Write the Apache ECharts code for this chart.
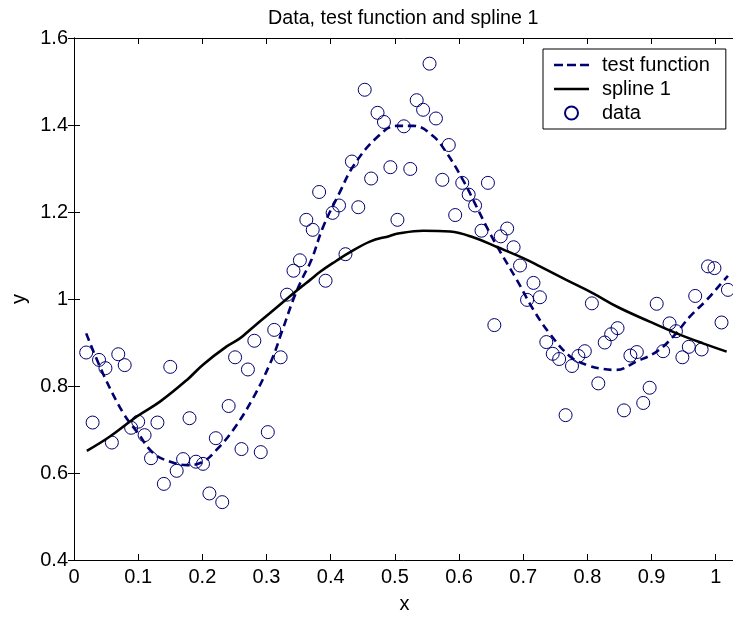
<!DOCTYPE html>
<html>
<head>
<meta charset="utf-8">
<script src="https://cdn.jsdelivr.net/npm/echarts@6/dist/echarts.min.js"></script>
<style>
html,body{margin:0;padding:0;background:#fff;}
#chart{width:733px;height:617px;}
</style>
</head>
<body>
<div id="chart"></div>
<script>
// ---- data ----
var dataX = [0.019,0.029,0.039,0.049,0.059,0.069,0.079,0.089,0.100,0.110,
  0.120,0.130,0.140,0.150,0.160,0.170,0.180,0.190,0.201,0.211,
  0.221,0.231,0.241,0.251,0.261,0.271,0.281,0.291,0.302,0.312,
  0.322,0.332,0.342,0.352,0.362,0.372,0.382,0.392,0.403,0.413,
  0.423,0.433,0.443,0.453,0.463,0.473,0.483,0.493,0.504,0.514,
  0.524,0.534,0.544,0.554,0.564,0.574,0.584,0.594,0.605,0.615,
  0.625,0.635,0.645,0.655,0.665,0.675,0.685,0.695,0.706,0.716,
  0.726,0.736,0.746,0.756,0.766,0.776,0.786,0.796,0.807,0.817,
  0.827,0.837,0.847,0.857,0.867,0.877,0.887,0.897,0.908,0.918,
  0.928,0.938,0.948,0.958,0.968,0.978,0.988,0.998,1.009,1.019];
var dataY = [0.877,0.716,0.860,0.841,0.670,0.873,0.848,0.704,0.718,0.687,
  0.634,0.716,0.575,0.844,0.605,0.632,0.726,0.626,0.621,0.553,
  0.680,0.533,0.754,0.866,0.655,0.838,0.904,0.648,0.694,0.929,
  0.866,1.010,1.065,1.089,1.182,1.159,1.246,1.042,1.198,1.215,
  1.103,1.316,1.211,1.481,1.277,1.428,1.407,1.303,1.182,1.397,
  1.299,1.457,1.435,1.541,1.415,1.274,1.354,1.193,1.267,1.240,
  1.215,1.157,1.267,0.940,1.144,1.162,1.119,1.077,0.998,1.037,
  1.004,0.901,0.874,0.862,0.733,0.846,0.869,0.880,0.990,0.806,
  0.900,0.919,0.933,0.744,0.870,0.878,0.761,0.796,0.989,0.880,
  0.944,0.926,0.866,0.890,1.007,0.884,1.075,1.071,0.946,1.021];

var testX = [0.019,0.046,0.077,0.098,0.124,0.150,0.176,0.201,0.222,0.248,
  0.279,0.308,0.324,0.342,0.355,0.370,0.388,0.414,0.435,0.471,
  0.503,0.529,0.560,0.581,0.606,0.627,0.645,0.664,0.690,0.716,
  0.741,0.773,0.800,0.825,0.845,0.876,0.908,0.934,0.960,0.986,1.011,1.019];
var testY = [0.921,0.826,0.737,0.695,0.645,0.626,0.618,0.626,0.653,0.699,
  0.772,0.860,0.925,1.000,1.045,1.090,1.165,1.245,1.305,1.370,
  1.398,1.398,1.374,1.335,1.274,1.213,1.160,1.109,1.044,0.975,
  0.921,0.868,0.848,0.839,0.837,0.856,0.879,0.914,0.960,0.998,1.040,1.053];

var splineX = [0.020,0.056,0.098,0.134,0.176,0.201,0.238,0.259,0.274,0.305,
  0.342,0.355,0.368,0.383,0.409,0.425,0.461,0.492,0.503,0.544,
  0.586,0.622,0.660,0.700,0.726,0.767,0.809,0.848,0.897,0.939,0.980,1.017];
var splineY = [0.651,0.684,0.730,0.764,0.814,0.849,0.891,0.910,0.929,0.967,
  1.013,1.029,1.044,1.062,1.088,1.103,1.132,1.145,1.150,1.157,
  1.155,1.142,1.119,1.094,1.075,1.044,1.013,0.981,0.948,0.921,0.898,0.879];

var xTicks = {min: 0, max: 1.03, interval: 0.1};
var yTicks = {min: 0.4, max: 1.6, interval: 0.2};
var titleText = 'Data, test function and spline 1';
var seriesNames = ['test function', 'spline 1', 'data'];

function pairs(xs, ys) { return xs.map(function (x, i) { return [x, ys[i]]; }); }

var FONT = 'Liberation Sans, Arial, Helvetica, sans-serif';
var FS = 20;
var NAVY = '#000070';

function xFmt(v) {
  var r = Math.round(v * 10);
  if (Math.abs(v * 10 - r) > 1e-6) return '';
  return String(r / 10);
}

var baseAxis = {
  axisLine: {show: true, lineStyle: {color: '#000', width: 1}},
  axisTick: {show: true, inside: true, length: 6, lineStyle: {color: '#000', width: 1}},
  splitLine: {show: false}
};

var DASH_ICON = 'path://M0,0h9v2.6h-9z M13,0h9v2.6h-9z M26,0h9v2.6h-9z';
var LINE_ICON = 'path://M0,0h35v2.6h-35z';

var chart = echarts.init(document.getElementById('chart'), null, {renderer: 'canvas'});
chart.setOption({
  animation: false,
  backgroundColor: '#fff',
  textStyle: {fontFamily: FONT},
  title: {
    text: titleText,
    left: 263, top: 4,
    textStyle: {fontSize: 19.7, fontWeight: 'normal', color: '#000', fontFamily: FONT}
  },
  grid: {left: 74, top: 38, width: 661, bottom: 57, containLabel: false, outerBoundsMode: 'none'},
  legend: {
    orient: 'vertical',
    left: 543, top: 49,
    backgroundColor: '#fff',
    borderColor: '#000', borderWidth: 1, borderRadius: 0,
    padding: [6, 16, 6, 11],
    itemWidth: 35, itemHeight: 13, itemGap: 4,
    textStyle: {fontSize: FS, color: '#000', fontFamily: FONT, padding: [0, 0, 0, 8], lineHeight: 20},
    data: [
      {name: seriesNames[0], icon: DASH_ICON, itemStyle: {color: NAVY, borderWidth: 0}},
      {name: seriesNames[1], icon: LINE_ICON, itemStyle: {color: '#000', borderWidth: 0}},
      {name: seriesNames[2]}
    ]
  },
  xAxis: [
    Object.assign({}, baseAxis, {
      type: 'value', position: 'bottom', min: xTicks.min, max: xTicks.max, interval: xTicks.interval,
      axisLabel: {show: true, color: '#000', fontSize: FS, fontFamily: FONT, margin: 7, formatter: xFmt},
      name: 'x', nameLocation: 'middle', nameGap: 34,
      nameTextStyle: {color: '#000', fontSize: FS, fontFamily: FONT}
    }),
    Object.assign({}, baseAxis, {
      type: 'value', position: 'top', min: xTicks.min, max: xTicks.max, interval: xTicks.interval,
      axisLabel: {show: false}
    })
  ],
  yAxis: [
    Object.assign({}, baseAxis, {
      type: 'value', position: 'left', min: yTicks.min, max: yTicks.max, interval: yTicks.interval,
      axisLabel: {show: true, color: '#000', fontSize: FS, fontFamily: FONT, margin: 6},
      name: 'y', nameLocation: 'middle', nameGap: 45,
      nameTextStyle: {color: '#000', fontSize: FS, fontFamily: FONT}
    }),
    Object.assign({}, baseAxis, {
      type: 'value', position: 'right', min: yTicks.min, max: yTicks.max, interval: yTicks.interval,
      axisLabel: {show: false}
    })
  ],
  series: [
    {
      name: seriesNames[0], type: 'line', xAxisIndex: 0, yAxisIndex: 0,
      data: pairs(testX, testY), smooth: 0.4, symbol: 'none',
      lineStyle: {color: NAVY, width: 2.6, type: [8, 5]},
      itemStyle: {color: NAVY}
    },
    {
      name: seriesNames[1], type: 'line', xAxisIndex: 0, yAxisIndex: 0,
      data: pairs(splineX, splineY), smooth: 0.4, symbol: 'none',
      lineStyle: {color: '#000', width: 2.6, type: 'solid'},
      itemStyle: {color: '#000'}
    },
    {
      name: seriesNames[2], type: 'scatter', xAxisIndex: 0, yAxisIndex: 0,
      data: pairs(dataX, dataY), symbol: 'circle', symbolSize: 13,
      itemStyle: {color: 'rgba(255,255,255,0)', borderColor: NAVY, borderWidth: 1, opacity: 1}
    }
  ]
});
</script>
</body>
</html>
